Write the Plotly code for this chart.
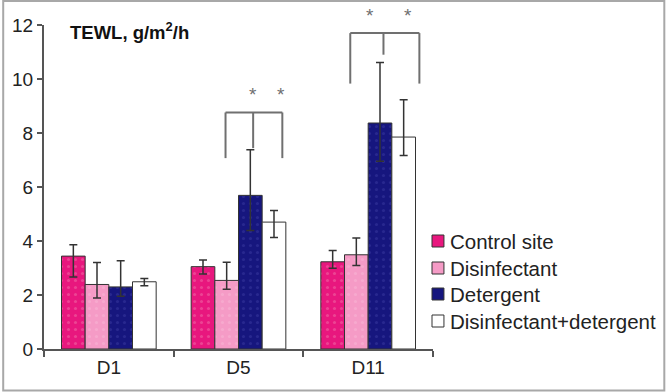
import plotly.graph_objects as go

categories = ["D1", "D5", "D11"]
series_names = ["Control site", "Disinfectant", "Detergent", "Disinfectant+detergent"]

control = [3.44, 3.05, 3.23]
control_up = [0.42, 0.25, 0.42]
control_dn = [0.77, 0.27, 0.24]

disinf = [2.39, 2.54, 3.49]
disinf_up = [0.81, 0.67, 0.62]
disinf_dn = [0.50, 0.33, 0.40]

deterg = [2.30, 5.69, 8.37]
deterg_up = [0.97, 1.69, 2.24]
deterg_dn = [0.35, 1.30, 1.42]

combo = [2.49, 4.70, 7.85]
combo_up = [0.12, 0.43, 1.38]
combo_dn = [0.15, 0.57, 0.68]

y_ticks = [0, 2, 4, 6, 8, 10, 12]

colors = ["#E8177E", "#F59BC6", "#16167E", "#FFFFFF"]
dot_colors = ["#F070A8", "#F8B8D6", "#3A3AA0", "#FFFFFF"]
values = [control, disinf, deterg, combo]
ups = [control_up, disinf_up, deterg_up, combo_up]
dns = [control_dn, disinf_dn, deterg_dn, combo_dn]

FONT = "Arial, Liberation Sans, Helvetica, sans-serif"

W, H = 667, 392
ML, MR, MT, MB = 42, 234, 25, 43
PW, PH = W - ML - MR, H - MT - MB

fig = go.Figure()
for name, col, dc, v, u, d in zip(series_names, colors, dot_colors, values, ups, dns):
    fig.add_trace(go.Bar(
        name=name, x=categories, y=v, showlegend=False,
        marker=dict(color=col, line=dict(color="#333333", width=1),
                    pattern=dict(shape=".", fgcolor=dc, bgcolor=col, size=7, solidity=0.15)),
        error_y=dict(type="data", symmetric=False, array=u, arrayminus=d,
                     color="#333333", thickness=1.5, width=4),
    ))

# figure pixel -> paper coords
def px_x(p):
    return (p - ML) / PW

def px_y(p):
    return (H - MB - p) / PH

# significance brackets (x in category index units, y in data units)
brackets = [
    dict(left=0.90, center=1.113, right=1.338, top=8.76, leg=7.07, stem=7.44,
         stars=[1.115, 1.331], star_y=9.42),
    dict(left=1.862, center=2.118, right=2.395, top=11.70, leg=9.83, stem=10.9,
         stars=[2.015, 2.308], star_y=12.36),
]
shapes = []
annotations = []
lc = dict(color="#707070", width=2)
for b in brackets:
    shapes.append(dict(type="line", xref="x", yref="y", x0=b["left"], x1=b["right"],
                       y0=b["top"], y1=b["top"], line=lc))
    shapes.append(dict(type="line", xref="x", yref="y", x0=b["left"], x1=b["left"],
                       y0=b["top"], y1=b["leg"], line=lc))
    shapes.append(dict(type="line", xref="x", yref="y", x0=b["right"], x1=b["right"],
                       y0=b["top"], y1=b["leg"], line=lc))
    shapes.append(dict(type="line", xref="x", yref="y", x0=b["center"], x1=b["center"],
                       y0=b["top"], y1=b["stem"], line=lc))
    for sx in b["stars"]:
        annotations.append(dict(x=sx, y=b["star_y"] / 12.0, xref="x", yref="paper", text="*",
                                showarrow=False, font=dict(family=FONT, size=19, color="#707070"),
                                yanchor="middle"))

# legend (swatches + labels)
leg_y = [241, 268, 294, 321]
for name, col, yy in zip(series_names, colors, leg_y):
    shapes.append(dict(type="rect", xref="paper", yref="paper",
                       x0=px_x(432), x1=px_x(444), y0=px_y(yy + 6), y1=px_y(yy - 6),
                       fillcolor=col, line=dict(color="#333333", width=1)))
    annotations.append(dict(x=px_x(448), y=px_y(yy), xref="paper", yref="paper",
                            text=name, showarrow=False, xanchor="left", yanchor="middle",
                            font=dict(family=FONT, size=20.5, color="#222222")))

# outer frame
shapes.append(dict(type="rect", xref="paper", yref="paper",
                   x0=px_x(1), x1=px_x(665.5), y0=px_y(390.5), y1=px_y(1),
                   line=dict(color="#A8A8A8", width=2), layer="above"))

annotations.append(dict(x=px_x(66), y=px_y(31), xref="paper", yref="paper",
                        text="<b>TEWL, g/m<sup>2</sup>/h</b>", showarrow=False,
                        xanchor="left", yanchor="middle",
                        font=dict(family=FONT, size=18.5, color="#111111")))

fig.update_layout(
    width=W, height=H,
    margin=dict(l=ML, r=MR, t=MT, b=MB),
    paper_bgcolor="white", plot_bgcolor="white",
    barmode="group", bargap=0.27, bargroupgap=0,
    font=dict(family=FONT, size=20, color="#222222"),
    showlegend=False,
    shapes=shapes, annotations=annotations,
)
fig.update_xaxes(showline=True, linecolor="#555555", linewidth=2,
                 ticks="outside", tickson="boundaries", ticklen=6, tickcolor="#555555",
                 tickwidth=2, showgrid=False, range=[-0.5, 2.5],
                 tickfont=dict(family=FONT, size=19, color="#222222"))
fig.update_yaxes(showline=True, linecolor="#555555", linewidth=2,
                 ticks="outside", ticklen=5, tickcolor="#555555", tickwidth=2,
                 showgrid=False, zeroline=False, range=[0, 12], tickvals=y_ticks,
                 tickfont=dict(family=FONT, size=19, color="#222222"))

fig.write_html("out.html", config={"displayModeBar": False},
               post_script="document.body.style.margin='0';document.body.style.overflow='hidden';")
